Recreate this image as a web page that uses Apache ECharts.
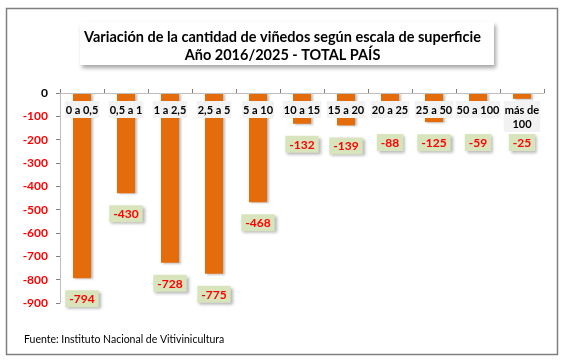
<!DOCTYPE html>
<html><head><meta charset="utf-8">
<script src="https://cdn.jsdelivr.net/npm/echarts@6/dist/echarts.min.js"></script>
<style>html,body{margin:0;padding:0;background:#fff}#c{width:565px;height:361px}</style>
</head><body><div id="c"></div>
<script>
const categories = ['0 a 0,5','0,5 a 1','1 a 2,5','2,5 a 5','5 a 10','10 a 15','15 a 20','20 a 25','25 a 50','50 a 100','más de\n100'];
const values = [-794,-430,-728,-775,-468,-132,-139,-88,-125,-59,-25];
const yTicks = [0,-100,-200,-300,-400,-500,-600,-700,-800,-900];
const titleLines = ['Variación de la cantidad de viñedos según escala de superficie','Año 2016/2025 - TOTAL PAÍS'];
const sourceText = 'Fuente: Instituto Nacional de Vitivinicultura';

const FONT = 'Lato, "Open Sans", sans-serif';
const chart = echarts.init(document.getElementById('c'), null, {renderer:'canvas'});

function build(dist){
  return {
    animation:false,
    backgroundColor:'#fff',
    grid:{left:60,right:21,top:93,bottom:58},
    graphic:[
      {type:'rect',shape:{x:6.5,y:8.5,width:551,height:346},style:{fill:'none',stroke:'#808080',lineWidth:1.5},z:0},
      {type:'rect',shape:{x:80,y:22,width:414,height:43},style:{fill:'#fff',shadowBlur:4,shadowOffsetX:2,shadowOffsetY:3,shadowColor:'rgba(0,0,0,0.35)'},z:1},
      {type:'text',left:'center',top:28,z:2,style:{text:titleLines.join('\n'),font:'bold 14.5px '+FONT,fill:'#000',textAlign:'center',lineHeight:18}},
      {type:'text',left:24,top:334,z:2,style:{text:sourceText,font:'10.5px '+FONT,fill:'#000'}}
    ],
    xAxis:{type:'category',data:categories,position:'top',z:10,
      axisLine:{show:true,lineStyle:{color:'#bfbfbf'}},
      axisTick:{show:true,inside:false,length:4,lineStyle:{color:'#808080'}},
      axisLabel:{inside:true,margin:8,interval:0,color:'#000',fontFamily:FONT,fontSize:11,fontWeight:'bold',backgroundColor:'#f2f2f2',padding:[2,1,1,1],lineHeight:14,verticalAlign:'top'}
    },
    yAxis:{type:'value',min:-900,max:0,interval:100,
      axisLine:{show:true,lineStyle:{color:'#bfbfbf'}},
      axisTick:{show:true,length:4,lineStyle:{color:'#808080'}},
      splitLine:{show:false},
      axisLabel:{margin:12,fontFamily:FONT,fontSize:12,fontWeight:'bold',
        formatter:v=>String(v),
        color:v=>(Number(v)===0?'#000':'#ff0000')}
    },
    series:[{type:'bar',barWidth:'41%',
      itemStyle:{color:'#e46c0a',shadowColor:'rgba(0,0,0,0.25)',shadowOffsetX:2,shadowOffsetY:1,shadowBlur:2},
      data:values.map((v,i)=>({value:v,label:{distance:dist[i]}})),
      label:{show:true,position:'bottom',color:'#ff0000',fontFamily:FONT,fontWeight:'bold',fontSize:12,
        backgroundColor:'#d8e4bc',padding:[3,4,2,4],
        shadowColor:'rgba(0,0,0,0.3)',shadowOffsetX:2,shadowOffsetY:2,shadowBlur:3}
    }]
  };
}
chart.setOption(build(values.map(()=>13)));
const dist = values.map(v=>{
  const end = chart.convertToPixel({yAxisIndex:0},v);
  return Math.max(12, 134 - end);
});
chart.setOption(build(dist));
</script></body></html>
